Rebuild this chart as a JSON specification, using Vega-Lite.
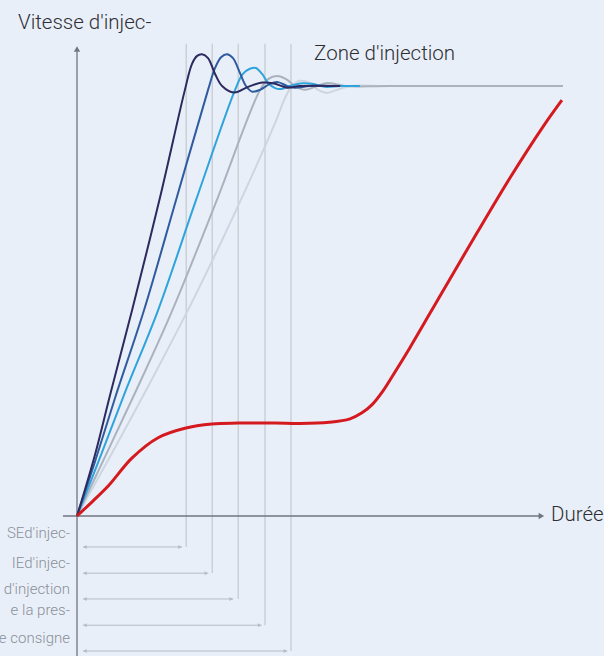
{
  "$schema": "https://vega.github.io/schema/vega-lite/v6.json",
  "width": 604,
  "height": 656,
  "autosize": {"type": "none"},
  "padding": 0,
  "background": "#e9eff9",
  "config": {"view": {"stroke": null}, "font": "Roboto"},
  "datasets": {
    "vlines": [
      {"t": 42, "top": 109.8, "bottom": -7.2},
      {"t": 52, "top": 109.8, "bottom": -13.3},
      {"t": 62, "top": 109.8, "bottom": -19.3},
      {"t": 72.3, "top": 109.8, "bottom": -25.4},
      {"t": 82.3, "top": 109.8, "bottom": -31.4}
    ],
    "harrows": [
      {"t1": 2.3, "t2": 40.4, "v": -7.2},
      {"t1": 2.3, "t2": 50.5, "v": -13.3},
      {"t1": 2.3, "t2": 60.1, "v": -19.3},
      {"t1": 2.3, "t2": 71.0, "v": -25.4},
      {"t1": 2.3, "t2": 80.9, "v": -31.4}
    ],
    "axes": [
      {"t1": 0, "t2": 0, "v1": -32.6, "v2": 108},
      {"t1": -5.4, "t2": 178, "v1": 0, "v2": 0}
    ],
    "axisheads": [
      {"t": 0, "v": 108.6, "shape": "triangle-up"},
      {"t": 178.6, "v": 0, "shape": "triangle-right"}
    ],
    "curves": [
      {"s": "C5", "t": 0, "v": 0},
      {"s": "C5", "t": 12.7, "v": 13.8},
      {"s": "C5", "t": 28.1, "v": 31.0},
      {"s": "C5", "t": 44.6, "v": 50.2},
      {"s": "C5", "t": 60.8, "v": 70.6},
      {"s": "C5", "t": 76.2, "v": 91.4},
      {"s": "C5", "t": 80, "v": 97.2},
      {"s": "C5", "t": 82.7, "v": 100},
      {"s": "C5", "t": 85.8, "v": 101.2},
      {"s": "C5", "t": 89.6, "v": 100.7},
      {"s": "C5", "t": 92.7, "v": 99.1},
      {"s": "C5", "t": 96.2, "v": 98.4},
      {"s": "C5", "t": 100, "v": 99.1},
      {"s": "C5", "t": 105, "v": 100},
      {"s": "C5", "t": 120, "v": 100},
      {"s": "C5", "t": 186.9, "v": 100},
      {"s": "C4", "t": 0, "v": 0},
      {"s": "C4", "t": 10.8, "v": 13.8},
      {"s": "C4", "t": 22.3, "v": 28.6},
      {"s": "C4", "t": 36.5, "v": 47.6},
      {"s": "C4", "t": 53.1, "v": 72.4},
      {"s": "C4", "t": 70.4, "v": 99.1},
      {"s": "C4", "t": 73.5, "v": 101.6},
      {"s": "C4", "t": 76.9, "v": 102.3},
      {"s": "C4", "t": 80.4, "v": 101.6},
      {"s": "C4", "t": 83.8, "v": 100},
      {"s": "C4", "t": 87.7, "v": 99.1},
      {"s": "C4", "t": 91.5, "v": 99.8},
      {"s": "C4", "t": 96.2, "v": 100.7},
      {"s": "C4", "t": 103.1, "v": 100},
      {"s": "C4", "t": 120, "v": 100},
      {"s": "C4", "t": 186.9, "v": 100},
      {"s": "C3", "t": 0, "v": 0},
      {"s": "C3", "t": 8.8, "v": 13.5},
      {"s": "C3", "t": 18.5, "v": 28.8},
      {"s": "C3", "t": 31.2, "v": 47.9},
      {"s": "C3", "t": 45.8, "v": 73.5},
      {"s": "C3", "t": 60.8, "v": 99.1},
      {"s": "C3", "t": 63.8, "v": 102.8},
      {"s": "C3", "t": 66.5, "v": 104.0},
      {"s": "C3", "t": 68.8, "v": 104.2},
      {"s": "C3", "t": 71.2, "v": 102.8},
      {"s": "C3", "t": 73.5, "v": 100.7},
      {"s": "C3", "t": 76.2, "v": 99.5},
      {"s": "C3", "t": 78.5, "v": 99.3},
      {"s": "C3", "t": 81.9, "v": 100},
      {"s": "C3", "t": 85.8, "v": 100.6},
      {"s": "C3", "t": 90.4, "v": 100.5},
      {"s": "C3", "t": 95.4, "v": 99.8},
      {"s": "C3", "t": 101.2, "v": 100},
      {"s": "C3", "t": 108.8, "v": 100},
      {"s": "C2", "t": 0, "v": 0},
      {"s": "C2", "t": 6.9, "v": 12.6},
      {"s": "C2", "t": 14.6, "v": 27.4},
      {"s": "C2", "t": 25.8, "v": 47.9},
      {"s": "C2", "t": 38.1, "v": 73.5},
      {"s": "C2", "t": 50.4, "v": 99.1},
      {"s": "C2", "t": 53.1, "v": 104.2},
      {"s": "C2", "t": 55.4, "v": 106.7},
      {"s": "C2", "t": 57.7, "v": 107.4},
      {"s": "C2", "t": 60, "v": 106.5},
      {"s": "C2", "t": 62.7, "v": 103.0},
      {"s": "C2", "t": 65, "v": 100},
      {"s": "C2", "t": 67.3, "v": 98.7},
      {"s": "C2", "t": 70.4, "v": 99.1},
      {"s": "C2", "t": 74.2, "v": 100.5},
      {"s": "C2", "t": 77.3, "v": 100.9},
      {"s": "C2", "t": 80.8, "v": 100},
      {"s": "C2", "t": 83.8, "v": 99.6},
      {"s": "C2", "t": 89.6, "v": 100},
      {"s": "C2", "t": 101.2, "v": 100},
      {"s": "C1", "t": 0, "v": 0},
      {"s": "C1", "t": 6.9, "v": 14.2},
      {"s": "C1", "t": 12.7, "v": 28.1},
      {"s": "C1", "t": 21.2, "v": 47.9},
      {"s": "C1", "t": 31.9, "v": 74.0},
      {"s": "C1", "t": 41.5, "v": 99.1},
      {"s": "C1", "t": 44.2, "v": 105.1},
      {"s": "C1", "t": 46.2, "v": 107.0},
      {"s": "C1", "t": 48.1, "v": 107.4},
      {"s": "C1", "t": 50.4, "v": 106.5},
      {"s": "C1", "t": 53.1, "v": 102.8},
      {"s": "C1", "t": 55.8, "v": 100},
      {"s": "C1", "t": 60.4, "v": 98.5},
      {"s": "C1", "t": 65.8, "v": 99.8},
      {"s": "C1", "t": 71.2, "v": 100.8},
      {"s": "C1", "t": 76.2, "v": 100.5},
      {"s": "C1", "t": 80.8, "v": 99.6},
      {"s": "C1", "t": 85.8, "v": 100},
      {"s": "C1", "t": 101.2, "v": 100}
    ],
    "red": [
      {"t": 0, "v": 0},
      {"t": 5.8, "v": 3.3},
      {"t": 11.9, "v": 6.9},
      {"t": 21.2, "v": 13.5},
      {"t": 31.2, "v": 18.2},
      {"t": 41.5, "v": 20.4},
      {"t": 51.9, "v": 21.4},
      {"t": 61.9, "v": 21.6},
      {"t": 76.2, "v": 21.6},
      {"t": 85.8, "v": 21.5},
      {"t": 97.0, "v": 21.8},
      {"t": 105.0, "v": 22.6},
      {"t": 109.6, "v": 24.0},
      {"t": 113.5, "v": 25.9},
      {"t": 117.7, "v": 29.1},
      {"t": 122.3, "v": 33.5},
      {"t": 128.1, "v": 39.2},
      {"t": 140.8, "v": 52.4},
      {"t": 153.8, "v": 65.8},
      {"t": 166.5, "v": 78.6},
      {"t": 179.2, "v": 90.5},
      {"t": 186.5, "v": 96.7}
    ],
    "titles": [
      {"t": -22.7, "v": 113.3, "label": "Vitesse d'injec-"},
      {"t": 91.2, "v": 106.0, "label": "Zone d'injection"},
      {"t": 182.3, "v": -1.2, "label": "Durée"}
    ],
    "labels": [
      {"t": -2.7, "v": -3.95, "label": "SEd'injec-"},
      {"t": -2.7, "v": -10.9, "label": "IEd'injec-"},
      {"t": -2.7, "v": -17.0, "label": "d'injection"},
      {"t": -2.7, "v": -21.9, "label": "e la pres-"},
      {"t": -2.7, "v": -28.4, "label": "e consigne"}
    ]
  },
  "encoding": {
    "x": {"type": "quantitative", "scale": {"domain": [-29.615, 202.69], "nice": false, "zero": false}, "axis": null},
    "y": {"type": "quantitative", "scale": {"domain": [-32.56, 120], "nice": false, "zero": false}, "axis": null}
  },
  "layer": [
    {
      "data": {"name": "vlines"},
      "mark": {"type": "rule", "color": "#c4c8cf", "strokeWidth": 1.2},
      "encoding": {"x": {"field": "t", "type": "quantitative"}, "y": {"field": "top", "type": "quantitative"}, "y2": {"field": "bottom"}}
    },
    {
      "data": {"name": "harrows"},
      "mark": {"type": "rule", "color": "#b6bbc3", "strokeWidth": 1},
      "encoding": {"x": {"field": "t1", "type": "quantitative"}, "x2": {"field": "t2"}, "y": {"field": "v", "type": "quantitative"}}
    },
    {
      "data": {"name": "harrows"},
      "mark": {"type": "point", "shape": "triangle-left", "filled": true, "size": 16, "color": "#b6bbc3", "opacity": 1, "xOffset": 2},
      "encoding": {"x": {"field": "t1", "type": "quantitative"}, "y": {"field": "v", "type": "quantitative"}}
    },
    {
      "data": {"name": "harrows"},
      "mark": {"type": "point", "shape": "triangle-right", "filled": true, "size": 16, "color": "#b6bbc3", "opacity": 1, "xOffset": -2},
      "encoding": {"x": {"field": "t2", "type": "quantitative"}, "y": {"field": "v", "type": "quantitative"}}
    },
    {
      "data": {"name": "axes"},
      "mark": {"type": "rule", "color": "#70757e", "strokeWidth": 1.3},
      "encoding": {"x": {"field": "t1", "type": "quantitative"}, "x2": {"field": "t2"}, "y": {"field": "v1", "type": "quantitative"}, "y2": {"field": "v2"}}
    },
    {
      "data": {"name": "axisheads"},
      "mark": {"type": "point", "filled": true, "size": 40, "color": "#70757e", "opacity": 1},
      "encoding": {"x": {"field": "t", "type": "quantitative"}, "y": {"field": "v", "type": "quantitative"}, "shape": {"field": "shape", "type": "nominal", "scale": null}}
    },
    {
      "data": {"name": "curves"},
      "mark": {"type": "line", "interpolate": "catmull-rom", "strokeWidth": 2},
      "encoding": {
        "x": {"field": "t", "type": "quantitative"},
        "y": {"field": "v", "type": "quantitative"},
        "color": {"field": "s", "type": "nominal", "legend": null,
          "scale": {"domain": ["C5", "C4", "C3", "C2", "C1"], "range": ["#cdd6e0", "#aab2bd", "#2ea3dc", "#2f5c9f", "#2c2a5e"]}}
      }
    },
    {
      "data": {"name": "red"},
      "mark": {"type": "line", "interpolate": "catmull-rom", "strokeWidth": 3, "color": "#d51a1f"},
      "encoding": {"x": {"field": "t", "type": "quantitative"}, "y": {"field": "v", "type": "quantitative"}}
    },
    {
      "data": {"name": "titles"},
      "mark": {"type": "text", "align": "left", "baseline": "alphabetic", "fontSize": 20.5, "fontWeight": 300, "color": "#2e2e33"},
      "encoding": {"x": {"field": "t", "type": "quantitative"}, "y": {"field": "v", "type": "quantitative"}, "text": {"field": "label"}}
    },
    {
      "data": {"name": "labels"},
      "mark": {"type": "text", "align": "right", "baseline": "middle", "fontSize": 15, "fontWeight": 300, "color": "#8a8f98"},
      "encoding": {"x": {"field": "t", "type": "quantitative"}, "y": {"field": "v", "type": "quantitative"}, "text": {"field": "label"}}
    }
  ]
}
